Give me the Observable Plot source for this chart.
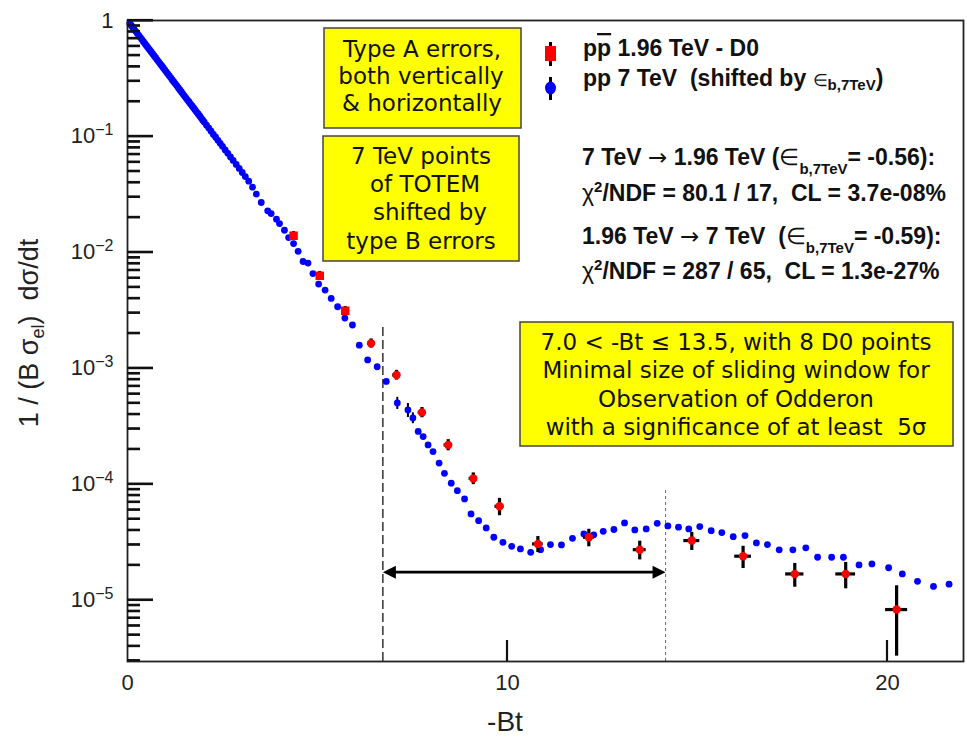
<!DOCTYPE html>
<html><head><meta charset="utf-8">
<script src="https://cdn.jsdelivr.net/npm/d3@7"></script>
<script src="https://cdn.jsdelivr.net/npm/@observablehq/plot@0.6"></script>
<style>body{margin:0;background:#fff}#chart{width:967px;height:739px}</style>
</head><body><div id="chart"></div>
<script>
// ---- TOTEM pp 7 TeV (shifted) : -Bt and normalised dsigma/dt
const blueT = [0.06,0.10,0.14,0.18,0.22,0.26,0.30,0.34,0.38,0.42,0.46,0.50,0.54,0.58,0.62,0.66,0.70,0.74,0.78,0.82,0.86,0.90,0.94,0.98,1.02,1.06,1.10,1.14,1.18,1.22,1.26,1.30,1.34,1.38,1.42,1.46,1.50,1.54,1.58,1.62,1.66,1.70,1.74,1.78,1.82,1.86,1.90,1.94,1.98,2.02,
2.08,2.14,2.20,2.26,2.32,2.38,2.44,2.50,2.57,2.64,2.71,2.78,2.86,2.94,3.02,3.10,3.19,3.29,3.39,3.52,
3.69,3.78,3.92,4.00,4.13,4.24,4.37,4.49,4.62,4.75,4.88,5.03,5.20,5.36,5.53,5.72,5.92,6.10,6.32,6.57,6.81,7.10,7.38,7.51,7.65,7.78,7.91,8.04,8.20,8.34,8.52,8.68,8.87,
9.04,9.24,9.44,9.64,9.88,10.11,10.34,10.61,10.87,11.13,11.42,11.71,12.01,12.27,12.52,12.80,13.08,13.35,13.65,13.94,14.22,14.50,14.77,15.06,15.36,15.64,15.94,16.25,16.55,16.84,17.15,17.51,17.85,18.16,18.53,18.84,19.25,19.59,20.03,20.39,20.79,21.21,21.62];
const blueV = [0.942,0.905,0.869,0.835,0.803,0.771,0.741,0.712,0.684,0.657,0.631,0.607,0.583,0.560,0.538,0.517,0.497,0.477,0.458,0.440,0.423,0.407,0.391,0.375,0.361,0.347,0.333,0.320,0.307,0.295,0.284,0.273,0.262,0.252,0.242,0.232,0.223,0.214,0.206,0.198,0.190,0.183,0.176,0.169,0.162,0.156,0.150,0.144,0.138,0.133,
0.125,0.118,0.111,0.104,0.0983,0.0926,0.0872,0.0821,0.0765,0.0714,0.0665,0.0620,0.0573,0.0529,0.0488,0.0450,0.0411,0.0365,0.0318,0.0269,
2.28e-2,2.16e-2,1.93e-2,1.77e-2,1.55e-2,1.34e-2,1.19e-2,1.02e-2,8.33e-3,8.07e-3,6.56e-3,5.32e-3,4.72e-3,4.00e-3,3.39e-3,2.71e-3,2.36e-3,1.58e-3,1.18e-3,1.03e-3,7.69e-4,5.01e-4,4.36e-4,3.72e-4,2.85e-4,2.57e-4,2.18e-4,1.91e-4,1.52e-4,1.24e-4,1.02e-4,8.79e-5,7.45e-5,
5.53e-5,4.84e-5,4.19e-5,3.48e-5,3.15e-5,2.91e-5,2.76e-5,2.58e-5,2.72e-5,3.01e-5,2.99e-5,3.41e-5,3.72e-5,3.65e-5,3.92e-5,4.06e-5,4.63e-5,4.03e-5,4.11e-5,4.59e-5,4.36e-5,4.25e-5,4.11e-5,4.30e-5,3.97e-5,3.82e-5,3.52e-5,3.60e-5,3.11e-5,3.01e-5,2.71e-5,2.71e-5,2.82e-5,2.34e-5,2.34e-5,2.34e-5,2.01e-5,2.05e-5,1.90e-5,1.68e-5,1.45e-5,1.31e-5,1.37e-5];
// a few visible error bars on the 7 TeV points
const blueBarT = [7.10,7.38,7.51];
const blueBarV = [5.01e-4,4.36e-4,3.72e-4];
const blueBarErr = [6e-5,6e-5,4e-5];

// ---- D0 ppbar 1.96 TeV
const d0T = [4.37,5.06,5.73,6.41,7.08,7.75,8.44,9.10,9.79,10.80,12.14,13.48,14.85,16.20,17.56,18.90,20.24];
const d0V = [1.39e-2,6.27e-3,3.13e-3,1.64e-3,8.74e-4,4.16e-4,2.18e-4,1.12e-4,6.44e-5,3.05e-5,3.48e-5,2.72e-5,3.26e-5,2.39e-5,1.68e-5,1.68e-5,8.28e-6];
const d0YErr = [1.2e-3,5.5e-4,2.8e-4,1.5e-4,8.5e-5,4.2e-5,2.4e-5,1.3e-5,1.1e-5,4.8e-6,6.0e-6,5.0e-6,5.8e-6,5.2e-6,3.9e-6,4.3e-6,5.0e-6];
const d0XErr = [0.08,0.08,0.09,0.09,0.10,0.10,0.11,0.11,0.12,0.14,0.14,0.17,0.21,0.22,0.24,0.26,0.29];

// ---- axes
const xDomain = [0, 22];
const yDomain = [2.95e-6, 1];
const xTickValues = [0, 10, 20];
const xInnerTicks = [10, 20];
const yMajorTicks = [1e-5, 1e-4, 1e-3, 1e-2, 1e-1, 1];
const yTickLabels = ["10^\u22125","10^\u22124","10^\u22123","10^\u22122","10^\u22121","1"];

// ---- sliding window annotation
const windowLo = 6.72, windowHi = 14.16;
const windowLoTop = 2.32e-3, windowHiTop = 9.1e-5;
const arrowY = 1.74e-5;

const yMinorTicks = [];
for (let e = -6; e <= -1; e++) for (let k = 2; k <= 9; k++) {
  const v = k * Math.pow(10, e);
  if (v >= yDomain[0] && v <= yDomain[1]) yMinorTicks.push(v);
}

const W = 967, H = 739, mL = 127, mR = 4, mT = 20, mB = 78;
const pxPerX = (W - mL - mR) / (xDomain[1] - xDomain[0]);

const blue = blueT.map((t, i) => ({t, v: blueV[i]}));
const blueBars = blueBarT.map((t, i) => ({t, lo: blueBarV[i] - blueBarErr[i], hi: blueBarV[i] + blueBarErr[i]}));
const d0 = d0T.map((t, i) => ({t, v: d0V[i], lo: d0V[i] - d0YErr[i], hi: d0V[i] + d0YErr[i], x1: t - d0XErr[i], x2: t + d0XErr[i], i}));

const headRight = {draw(ctx) { ctx.moveTo(0, 0); ctx.lineTo(-13, -6.5); ctx.lineTo(-13, 6.5); ctx.closePath(); }};
const headLeft = {draw(ctx) { ctx.moveTo(0, 0); ctx.lineTo(13, -6.5); ctx.lineTo(13, 6.5); ctx.closePath(); }};

const plot = Plot.plot({
  width: W, height: H,
  marginLeft: mL, marginRight: mR, marginTop: mT, marginBottom: mB,
  style: {fontFamily: "'Liberation Sans', Arial, sans-serif", background: "white", overflow: "visible"},
  x: {domain: xDomain},
  y: {type: "log", domain: yDomain},
  marks: [
    Plot.axisY({ticks: yMajorTicks, tickSize: 0, tickPadding: 14, fontSize: 22, fill: "#222",
      tickFormat: d => yTickLabels[yMajorTicks.indexOf(d)], label: null}),
    Plot.axisX({ticks: xTickValues, tickSize: 0, tickPadding: 13, fontSize: 22, fill: "#222", label: null}),
    // inward y ticks
    Plot.ruleY(yMajorTicks, {y: d => d, x1: xDomain[0], x2: xDomain[0] + 26 / pxPerX, stroke: "#111", strokeWidth: 2}),
    Plot.ruleY(yMinorTicks, {y: d => d, x1: xDomain[0], x2: xDomain[0] + 13 / pxPerX, stroke: "#111", strokeWidth: 2}),
    // sliding window
    Plot.ruleX([windowLo], {y1: yDomain[0], y2: windowLoTop, stroke: "#333", strokeWidth: 1.5, strokeDasharray: "9,4"}),
    Plot.ruleX([windowHi], {y1: yDomain[0], y2: windowHiTop, stroke: "#666", strokeWidth: 1, strokeDasharray: "3,3"}),
    Plot.ruleY([arrowY], {x1: windowLo + 0.2, x2: windowHi - 0.2, stroke: "black", strokeWidth: 2.6}),
    Plot.dot([windowHi], {x: d => d, y: arrowY, symbol: headRight, r: 5, fill: "black", stroke: "none"}),
    Plot.dot([windowLo], {x: d => d, y: arrowY, symbol: headLeft, r: 5, fill: "black", stroke: "none"}),
    // TOTEM 7 TeV
    Plot.ruleX(blueBars, {x: "t", y1: "lo", y2: "hi", stroke: "black", strokeWidth: 2}),
    Plot.dot(blue, {x: "t", y: "v", r: 3.4, fill: "#0000ff", stroke: "none"}),
    // D0 errors and markers
    Plot.ruleX(d0, {x: "t", y1: "lo", y2: "hi", stroke: "black", strokeWidth: 3.2}),
    Plot.ruleY(d0, {y: "v", x1: "x1", x2: "x2", stroke: "black", strokeWidth: 3.2}),
    Plot.dot(d0.filter(d => d.i < 3), {x: "t", y: "v", symbol: "square", r: 4.8, fill: "#ff0000", stroke: "none"}),
    Plot.dot(d0.filter(d => d.i >= 3), {x: "t", y: "v", r: 4.2, fill: "#ff0000", stroke: "none"}),
    Plot.frame({stroke: "#222", strokeWidth: 1.8})
  ]
});
document.getElementById("chart").appendChild(plot);

const svg = d3.select(plot);
const xs = plot.scale("x"), ys = plot.scale("y");
const pxPerDecade = (H - mT - mB) / Math.log10(yDomain[1] / yDomain[0]);
const xPx = v => { const p = xs && xs.apply ? xs.apply(v) : NaN; return isFinite(p) ? p : mL + (v - xDomain[0]) * pxPerX; };
const yPx = v => { const p = ys && ys.apply ? ys.apply(v) : NaN; return isFinite(p) ? p : mT + Math.log10(yDomain[1] / v) * pxPerDecade; };
const x0px = xPx(xDomain[0]), yBotPx = yPx(yDomain[0]);

// inward ROOT-style ticks, placed through Plot's scales
const tk = svg.append("g");
function tick(x1, y1, x2, y2) {
  tk.append("rect").attr("x", Math.min(x1, x2) - (x1 === x2 ? 1.1 : 0)).attr("y", Math.min(y1, y2) - (y1 === y2 ? 1.1 : 0))
    .attr("width", Math.abs(x2 - x1) || 2.2).attr("height", Math.abs(y2 - y1) || 2.2).attr("fill", "#111");
}
for (const v of yMajorTicks) tick(x0px, yPx(v), x0px + 26, yPx(v));
for (const v of yMinorTicks) tick(x0px, yPx(v), x0px + 13, yPx(v));
for (const v of xInnerTicks) tick(xPx(v), yBotPx, xPx(v), yBotPx - 21);

// superscript exponents on y labels
svg.selectAll('[aria-label="y-axis tick label"] text').each(function () {
  const s = this.textContent;
  if (s.includes("^")) {
    const [b, e] = s.split("^");
    const t = d3.select(this);
    t.text(null);
    t.append("tspan").text(b);
    t.append("tspan").attr("font-size", "16px").attr("dy", "-0.5em").text(e);
  }
});

const ann = svg.append("g").attr("text-anchor", "start");
const SANS = "'Liberation Sans', Arial, sans-serif";
const VERD = "'DejaVu Sans', Verdana, sans-serif";

// axis titles
ann.append("text").attr("x", 505).attr("y", 731).attr("text-anchor", "middle")
  .attr("font-family", SANS).attr("font-size", 28).attr("fill", "#222").text("-Bt");
const yt = ann.append("text").attr("transform", "translate(38,333) rotate(-90)").attr("text-anchor", "middle")
  .attr("font-family", SANS).attr("font-size", 27).attr("fill", "#222");
yt.append("tspan").text("1 / (B \u03c3");
yt.append("tspan").attr("font-size", 18).attr("dy", 6).text("el");
yt.append("tspan").attr("dy", -6).text(")\u00a0\u00a0d\u03c3/dt");

// yellow boxes
function yBox(x0, y0, x1, y1, lines) {
  ann.append("rect").attr("x", x0).attr("y", y0).attr("width", x1 - x0).attr("height", y1 - y0)
    .attr("fill", "#ffff00").attr("stroke", "#444").attr("stroke-width", 1.5);
  for (const [cx, by, s] of lines)
    ann.append("text").attr("x", cx).attr("y", by).attr("text-anchor", "middle")
      .attr("font-family", VERD).attr("font-size", 23).attr("fill", "#111").text(s);
}
yBox(324, 28, 521, 128, [[422, 57, "Type A errors,"], [421, 84, "both vertically"], [422, 111, "& horizontally"]]);
yBox(323, 136, 519, 261, [[421, 164, "7 TeV points"], [425, 192, "of TOTEM"], [430, 220, "shifted by"], [421, 249, "type B errors"]]);
yBox(520, 322, 953, 446, [[736, 350, "7.0 < -Bt \u2264 13.5, with 8 D0 points"], [736, 378, "Minimal size of sliding window for"],
  [736, 407, "Observation of Odderon"], [736, 435, "with a significance of at least  5\u03c3"]]);

// legend
ann.append("line").attr("x1", 550.5).attr("x2", 550.5).attr("y1", 42).attr("y2", 66).attr("stroke", "black").attr("stroke-width", 3);
ann.append("rect").attr("x", 545).attr("y", 46).attr("width", 11).attr("height", 15).attr("fill", "#ff0000");
ann.append("line").attr("x1", 550.5).attr("x2", 550.5).attr("y1", 77).attr("y2", 100).attr("stroke", "black").attr("stroke-width", 3);
ann.append("ellipse").attr("cx", 550.5).attr("cy", 88).attr("rx", 5.5).attr("ry", 6.5).attr("fill", "#0000ff");

function boldText(x, y) {
  return ann.append("text").attr("x", x).attr("y", y).attr("text-anchor", "start").attr("font-family", SANS).attr("font-weight", "bold")
    .attr("font-size", 23).attr("fill", "#111").attr("xml:space", "preserve");
}
const ARROW_FONT = "'DejaVu Sans', sans-serif";
let t = boldText(583, 56);
t.append("tspan").text("p");
t.append("tspan").attr("text-decoration", "overline").text("p");
t.append("tspan").text(" 1.96 TeV - D0");
t = boldText(583, 86);
t.append("tspan").text("pp 7 TeV\u00a0 (shifted by ");
t.append("tspan").attr("font-size", 17).attr("font-weight", "normal").text("\u2208");
t.append("tspan").attr("font-size", 15).attr("dy", 4).text("b,7TeV");
t.append("tspan").attr("dy", -4).text(")");

// fit statistics
t = boldText(582, 165);
t.append("tspan").text("7 TeV ");
t.append("tspan").attr("font-family", ARROW_FONT).attr("font-weight", "normal").text("\u2192");
t.append("tspan").text(" 1.96 TeV (");
t.append("tspan").attr("font-weight", "normal").text("\u2208");
t.append("tspan").attr("font-size", 15).attr("dy", 9).text("b,7TeV");
t.append("tspan").attr("dy", -9).text("= -0.56):");
t = boldText(582, 201);
t.append("tspan").attr("font-weight", "normal").text("\u03c7");
t.append("tspan").attr("font-size", 15).attr("dy", -9).text("2");
t.append("tspan").attr("dy", 9).text("/NDF = 80.1 / 17,\u00a0 CL = 3.7e-08%");
t = boldText(582, 244);
t.append("tspan").text("1.96 TeV ");
t.append("tspan").attr("font-family", ARROW_FONT).attr("font-weight", "normal").text("\u2192");
t.append("tspan").text(" 7 TeV\u00a0 (");
t.append("tspan").attr("font-weight", "normal").text("\u2208");
t.append("tspan").attr("font-size", 15).attr("dy", 9).text("b,7TeV");
t.append("tspan").attr("dy", -9).text("= -0.59):");
t = boldText(582, 279);
t.append("tspan").attr("font-weight", "normal").text("\u03c7");
t.append("tspan").attr("font-size", 15).attr("dy", -9).text("2");
t.append("tspan").attr("dy", 9).text("/NDF = 287 / 65,\u00a0 CL = 1.3e-27%");
</script></body></html>
